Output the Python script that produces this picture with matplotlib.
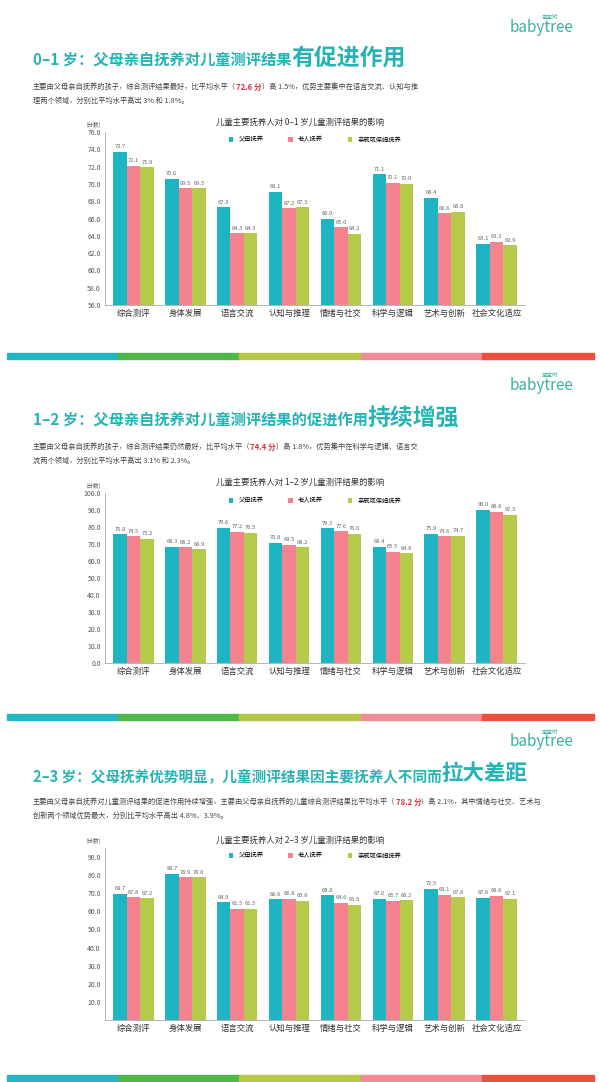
import numpy as np
import matplotlib
matplotlib.use('Agg')
import matplotlib.pyplot as plt
from matplotlib.patches import Rectangle

plt.rcParams['font.sans-serif'] = ['Noto Sans CJK SC', 'DejaVu Sans']

categories = ['综合测评', '身体发展', '语言交流', '认知与推理', '情绪与社交', '科学与逻辑', '艺术与创新', '社会文化适应']
series_names = ['父母抚养', '老人抚养', '亲戚或保姆抚养']

age01_parent = [73.7, 70.6, 67.3, 69.1, 66.0, 71.1, 68.4, 63.1]
age01_elder = [72.1, 69.5, 64.3, 67.2, 65.0, 70.1, 66.6, 63.3]
age01_nanny = [71.9, 69.5, 64.3, 67.3, 64.2, 70.0, 66.8, 62.9]

age12_parent = [75.8, 68.3, 79.6, 70.8, 79.3, 68.4, 75.9, 90.0]
age12_elder = [74.5, 68.2, 77.2, 69.5, 77.6, 65.5, 74.6, 88.8]
age12_nanny = [73.2, 66.9, 76.5, 68.2, 76.0, 64.6, 74.7, 87.3]

age23_parent = [69.7, 80.7, 64.9, 66.6, 68.8, 67.0, 72.5, 67.6]
age23_elder = [67.8, 78.9, 61.5, 66.8, 64.6, 65.7, 69.1, 68.6]
age23_nanny = [67.2, 78.8, 61.5, 65.8, 63.6, 66.2, 67.8, 67.1]

colors = ['#1cb5c1', '#f4838f', '#b6c94b']
title_color = '#27b2b6'
stripe_colors = ['#23b5c3', '#4fb848', '#b8c648', '#f28b98', '#ec4f3a']

H = 1082.0
fig = plt.figure(figsize=(6, 10.82), dpi=100)
fig.patch.set_facecolor('white')


def fy(px):
    return 1 - px / H


panels = [
    dict(data=[age01_parent, age01_elder, age01_nanny], ylim=(56, 76), ticks=np.arange(56, 77, 2),
         box=(132, 305), title_y=60, sub_y=87, chart_title='儿童主要抚养人对 0–1 岁儿童测评结果的影响',
         ct_y=122, stripe_y=356, logo_y=27, fs=(11, 16.5),
         t1='0–1 岁：父母亲自抚养对儿童测评结果', t2='有促进作用',
         s1='主要由父母亲自抚养的孩子，综合测评结果最好，比平均水平（', hl='72.6 分', s2='）高 1.5%，优势主要集中在语言交流、认知与推',
         s3='理两个领域，分别比平均水平高出 3% 和 1.8%。'),
    dict(data=[age12_parent, age12_elder, age12_nanny], ylim=(0, 100), ticks=np.arange(0, 101, 10),
         box=(493, 663), title_y=420, sub_y=447, chart_title='儿童主要抚养人对 1–2 岁儿童测评结果的影响',
         ct_y=482, stripe_y=717, logo_y=385, fs=(11, 16.5),
         t1='1–2 岁：父母亲自抚养对儿童测评结果的促进作用', t2='持续增强',
         s1='主要由父母亲自抚养的孩子，综合测评结果仍然最好，比平均水平（', hl='74.4 分', s2='）高 1.8%，优势集中在科学与逻辑、语言交',
         s3='流两个领域，分别比平均水平高出 3.1% 和 2.3%。'),
    dict(data=[age23_parent, age23_elder, age23_nanny], ylim=(0, 95), ticks=np.arange(10, 91, 10),
         box=(848, 1020), title_y=776, sub_y=802, chart_title='儿童主要抚养人对 2–3 岁儿童测评结果的影响',
         ct_y=840, stripe_y=1078, logo_y=742, fs=(10.5, 15.5),
         t1='2–3 岁：父母抚养优势明显，儿童测评结果因主要抚养人不同而', t2='拉大差距',
         s1='主要由父母亲自抚养对儿童测评结果的促进作用持续增强，主要由父母亲自抚养的儿童综合测评结果比平均水平（', hl='78.2 分', s2='）高 2.1%，其中情绪与社交、艺术与',
         s3='创新两个领域优势最大，分别比平均水平高出 4.8%、3.9%。'),
]

x = np.arange(len(categories))
w = 0.26

for p in panels:
    # header
    t = fig.text(0.055, fy(p['title_y']), p['t1'], fontsize=p['fs'][0], color=title_color, fontweight='bold', va='center')
    fig.canvas.draw()
    bb = t.get_window_extent()
    fig.text(bb.x1 / fig.bbox.width, fy(p['title_y']) + 0.002, p['t2'], fontsize=p['fs'][1], color=title_color,
             fontweight='bold', va='center')
    a = fig.text(0.055, fy(p['sub_y']), p['s1'], fontsize=5.2, color='#444444', va='center')
    fig.canvas.draw()
    bb = a.get_window_extent()
    b = fig.text(bb.x1 / fig.bbox.width, fy(p['sub_y']), p['hl'], fontsize=5.6, color='#d9343f',
                 fontweight='bold', va='center')
    fig.canvas.draw()
    bb = b.get_window_extent()
    fig.text(bb.x1 / fig.bbox.width, fy(p['sub_y']), p['s2'], fontsize=5.2, color='#444444', va='center')
    fig.text(0.055, fy(p['sub_y'] + 14), p['s3'], fontsize=5.2, color='#444444', va='center')

    # logo
    fig.text(0.955, fy(p['logo_y']), 'babytree', fontsize=11, color='#3ab0a2', ha='right', va='center')
    fig.text(0.93, fy(p['logo_y'] - 10), '宝宝树', fontsize=4, color='#3ab0a2', ha='right', va='center')

    # stripe
    seg = [0.012, 0.196, 0.398, 0.601, 0.803, 0.99]
    for i, c in enumerate(stripe_colors):
        fig.patches.append(Rectangle((seg[i], fy(p['stripe_y']) - 0.003), seg[i + 1] - seg[i], 0.006,
                                     transform=fig.transFigure, color=c, zorder=1))

    # chart
    top, bot = p['box']
    ax = fig.add_axes([0.175, fy(bot), 0.7, (bot - top) / H])
    for i, vals in enumerate(p['data']):
        bars = ax.bar(x + (i - 1) * w, vals, w, color=colors[i], label=series_names[i])
        for r, v in zip(bars, vals):
            ax.text(r.get_x() + r.get_width() / 2, v + (p['ylim'][1] - p['ylim'][0]) * 0.015, f'{v:.1f}',
                    ha='center', va='bottom', fontsize=4.2, color='#666666')
    ax.set_ylim(*p['ylim'])
    ax.set_xlim(-0.55, len(categories) - 0.45)
    ax.set_yticks(p['ticks'])
    ax.set_yticklabels([f'{v:.1f}' for v in p['ticks']], fontsize=5, color='#555555')
    ax.set_xticks(x)
    ax.set_xticklabels(categories, fontsize=6, color='#333333')
    ax.tick_params(length=0, pad=3)
    for s in ['top', 'right']:
        ax.spines[s].set_visible(False)
    for s in ['left', 'bottom']:
        ax.spines[s].set_color('#aaaaaa')
        ax.spines[s].set_linewidth(0.6)
    fig.text(0.155, fy(top - 8), '（分数）', fontsize=4, color='#555555', ha='center', va='center')
    fig.text(0.5, fy(p['ct_y']), p['chart_title'], fontsize=6, color='#333333', ha='center', va='center')
    ax.legend(loc='upper center', bbox_to_anchor=(0.5, 1.0), ncol=3, frameon=False, fontsize=4.5,
              handlelength=0.7, handleheight=0.7, columnspacing=4, borderaxespad=0.2)

fig.savefig('out.png', dpi=100, facecolor='white')
